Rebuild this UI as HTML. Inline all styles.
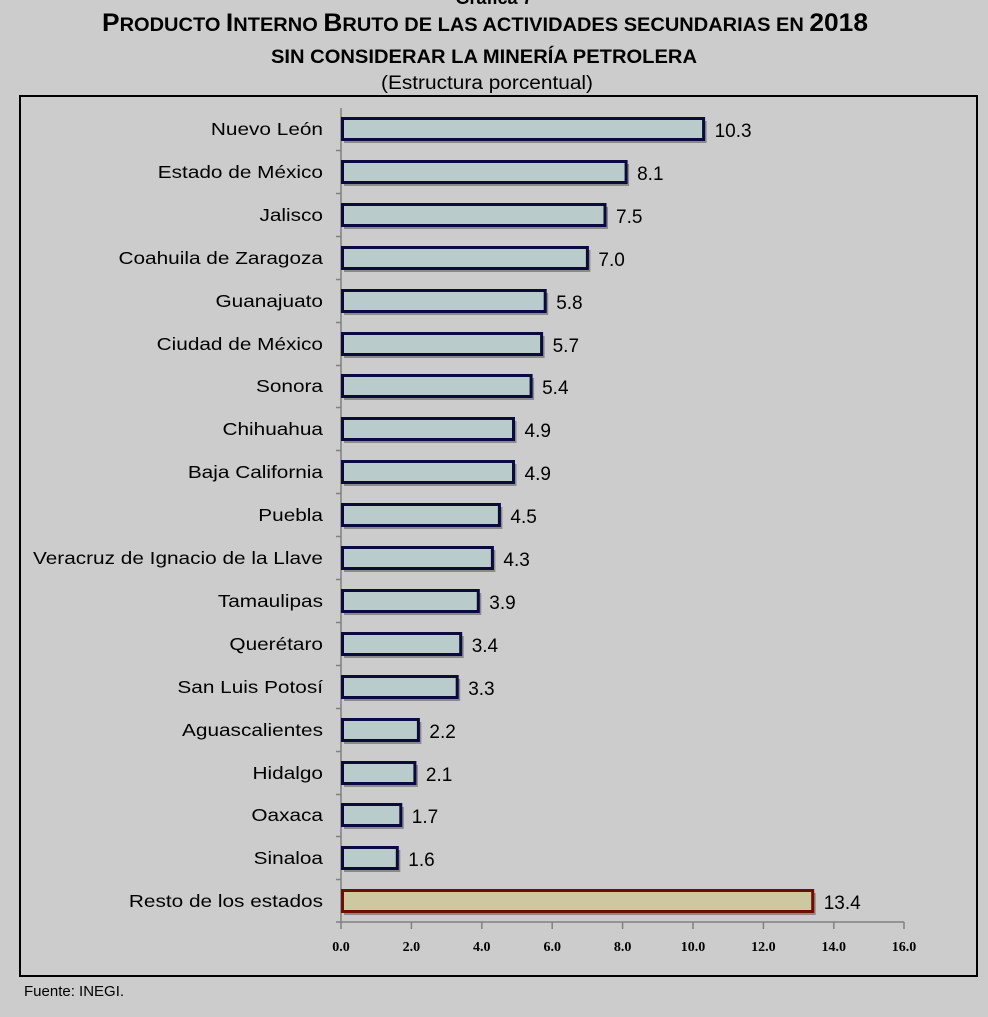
<!DOCTYPE html>
<html><head><meta charset="utf-8"><style>
body{margin:0;background:#cccccc;}
</style></head><body>
<svg width="988" height="1012" xmlns="http://www.w3.org/2000/svg" font-family="Liberation Sans, sans-serif">
<rect width="988" height="1012" fill="#cccccc"/>
<text x="494" y="4" text-anchor="middle" font-size="18" font-weight="bold" fill="#000">Gráfica 7</text>
<text x="102" y="31" textLength="766" lengthAdjust="spacingAndGlyphs" font-size="25" font-weight="bold" fill="#000">P<tspan font-size="19">RODUCTO </tspan>I<tspan font-size="19">NTERNO </tspan>B<tspan font-size="19">RUTO DE LAS ACTIVIDADES SECUNDARIAS EN </tspan>2018</text>
<text x="271" y="63" textLength="426" lengthAdjust="spacingAndGlyphs" font-size="19" font-weight="bold" fill="#000">SIN CONSIDERAR LA MINERÍA PETROLERA</text>
<text x="381" y="89" textLength="212" lengthAdjust="spacingAndGlyphs" font-size="19" fill="#000">(Estructura porcentual)</text>
<rect x="20" y="96" width="957" height="880" fill="none" stroke="#000" stroke-width="2"/>
<line x1="341" y1="108" x2="341" y2="922" stroke="#808080" stroke-width="1.5"/>
<line x1="336" y1="922" x2="904" y2="922" stroke="#808080" stroke-width="1.5"/>
<g stroke="#808080" stroke-width="1.5">
<line x1="341" y1="922" x2="341" y2="929"/><line x1="411.4" y1="922" x2="411.4" y2="929"/><line x1="481.8" y1="922" x2="481.8" y2="929"/><line x1="552.2" y1="922" x2="552.2" y2="929"/><line x1="622.6" y1="922" x2="622.6" y2="929"/><line x1="693" y1="922" x2="693" y2="929"/><line x1="763.4" y1="922" x2="763.4" y2="929"/><line x1="833.8" y1="922" x2="833.8" y2="929"/><line x1="904" y1="922" x2="904" y2="929"/>
<line x1="336" y1="150.5" x2="341" y2="150.5"/><line x1="336" y1="193.5" x2="341" y2="193.5"/><line x1="336" y1="236.5" x2="341" y2="236.5"/><line x1="336" y1="279.5" x2="341" y2="279.5"/><line x1="336" y1="322.5" x2="341" y2="322.5"/><line x1="336" y1="365.5" x2="341" y2="365.5"/><line x1="336" y1="407.5" x2="341" y2="407.5"/><line x1="336" y1="450.5" x2="341" y2="450.5"/><line x1="336" y1="493.5" x2="341" y2="493.5"/><line x1="336" y1="536.5" x2="341" y2="536.5"/><line x1="336" y1="579.5" x2="341" y2="579.5"/><line x1="336" y1="622.5" x2="341" y2="622.5"/><line x1="336" y1="665.5" x2="341" y2="665.5"/><line x1="336" y1="708.5" x2="341" y2="708.5"/><line x1="336" y1="751.5" x2="341" y2="751.5"/><line x1="336" y1="794.5" x2="341" y2="794.5"/><line x1="336" y1="836.5" x2="341" y2="836.5"/><line x1="336" y1="879.5" x2="341" y2="879.5"/>
</g>
<g font-size="14" fill="#000" text-anchor="middle" font-family="Liberation Serif, serif" font-weight="bold">
<text x="341" y="951">0.0</text><text x="411.4" y="951">2.0</text><text x="481.8" y="951">4.0</text><text x="552.2" y="951">6.0</text><text x="622.6" y="951">8.0</text><text x="693" y="951">10.0</text><text x="763.4" y="951">12.0</text><text x="833.8" y="951">14.0</text><text x="904" y="951">16.0</text>
</g>
<g fill="#8a8a8a">
<rect x="344" y="121" width="362.6" height="22"/><rect x="344" y="164" width="285.1" height="22"/><rect x="344" y="207" width="264" height="22"/><rect x="344" y="250" width="246.4" height="22"/><rect x="344" y="293" width="204.2" height="22"/><rect x="344" y="336" width="200.6" height="22"/><rect x="344" y="378" width="190.1" height="22"/><rect x="344" y="421" width="172.5" height="22"/><rect x="344" y="464" width="172.5" height="22"/><rect x="344" y="507" width="158.4" height="22"/><rect x="344" y="550" width="151.4" height="22"/><rect x="344" y="593" width="137.3" height="22"/><rect x="344" y="636" width="119.7" height="22"/><rect x="344" y="679" width="116.2" height="22"/><rect x="344" y="722" width="77.4" height="22"/><rect x="344" y="765" width="73.9" height="22"/><rect x="344" y="807" width="59.8" height="22"/><rect x="344" y="850" width="56.3" height="22"/><rect x="344" y="893" width="471.7" height="22"/>
</g>
<g fill="#b9cbcb" stroke="#0a0a3c" stroke-width="3">
<rect x="342.5" y="118.5" width="361.1" height="21"/><rect x="342.5" y="161.5" width="283.6" height="21"/><rect x="342.5" y="204.5" width="262.5" height="21"/><rect x="342.5" y="247.5" width="244.9" height="21"/><rect x="342.5" y="290.5" width="202.7" height="21"/><rect x="342.5" y="333.5" width="199.1" height="21"/><rect x="342.5" y="375.5" width="188.6" height="21"/><rect x="342.5" y="418.5" width="171" height="21"/><rect x="342.5" y="461.5" width="171" height="21"/><rect x="342.5" y="504.5" width="156.9" height="21"/><rect x="342.5" y="547.5" width="149.9" height="21"/><rect x="342.5" y="590.5" width="135.8" height="21"/><rect x="342.5" y="633.5" width="118.2" height="21"/><rect x="342.5" y="676.5" width="114.7" height="21"/><rect x="342.5" y="719.5" width="75.9" height="21"/><rect x="342.5" y="762.5" width="72.4" height="21"/><rect x="342.5" y="804.5" width="58.3" height="21"/><rect x="342.5" y="847.5" width="54.8" height="21"/>
</g>
<rect x="342.5" y="890.5" width="470.2" height="21" fill="#cdc8a0" stroke="#6b0f00" stroke-width="3"/>
<g font-size="18" fill="#000" text-anchor="end" transform="translate(323,0) scale(1.155,1) translate(-323,0)">
<text x="323" y="135">Nuevo León</text><text x="323" y="178">Estado de México</text><text x="323" y="221">Jalisco</text><text x="323" y="264">Coahuila de Zaragoza</text><text x="323" y="307">Guanajuato</text><text x="323" y="350">Ciudad de México</text><text x="323" y="392">Sonora</text><text x="323" y="435">Chihuahua</text><text x="323" y="478">Baja California</text><text x="323" y="521">Puebla</text><text x="323" y="564">Veracruz de Ignacio de la Llave</text><text x="323" y="607">Tamaulipas</text><text x="323" y="650">Querétaro</text><text x="323" y="693">San Luis Potosí</text><text x="323" y="736">Aguascalientes</text><text x="323" y="779">Hidalgo</text><text x="323" y="821">Oaxaca</text><text x="323" y="864">Sinaloa</text><text x="323" y="907">Resto de los estados</text>
</g>
<g font-size="19" fill="#000">
<text x="714.6" y="137">10.3</text><text x="637.1" y="180">8.1</text><text x="616" y="223">7.5</text><text x="598.4" y="266">7.0</text><text x="556.2" y="309">5.8</text><text x="552.6" y="352">5.7</text><text x="542.1" y="394">5.4</text><text x="524.5" y="437">4.9</text><text x="524.5" y="480">4.9</text><text x="510.4" y="523">4.5</text><text x="503.4" y="566">4.3</text><text x="489.3" y="609">3.9</text><text x="471.7" y="652">3.4</text><text x="468.2" y="695">3.3</text><text x="429.4" y="738">2.2</text><text x="425.9" y="781">2.1</text><text x="411.8" y="823">1.7</text><text x="408.3" y="866">1.6</text><text x="823.7" y="909">13.4</text>
</g>
<text x="24" y="996" font-size="15" fill="#000">Fuente: INEGI.</text>
</svg>
</body></html>
